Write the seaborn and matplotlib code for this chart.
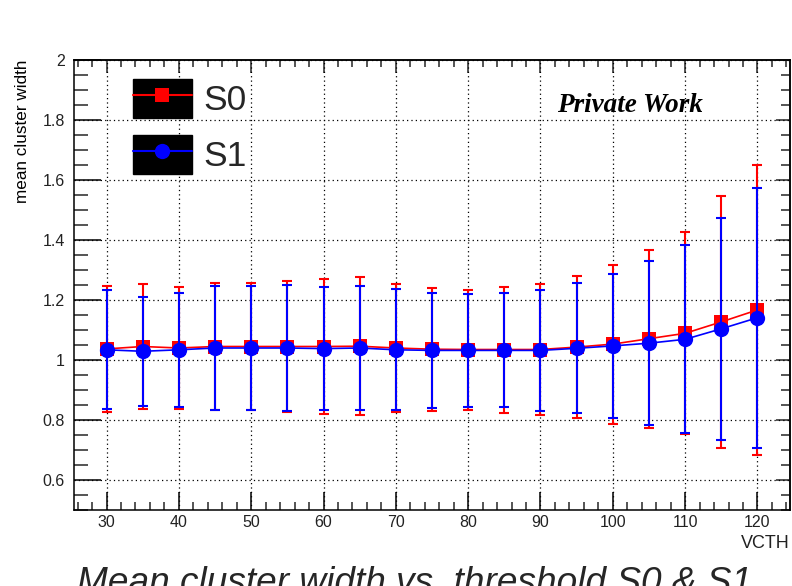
import numpy as np
import pandas as pd
import matplotlib
matplotlib.use("Agg")
import matplotlib.pyplot as plt
import seaborn as sns
from matplotlib.ticker import MultipleLocator, FuncFormatter
from matplotlib.lines import Line2D
from matplotlib.patches import Rectangle
from matplotlib.legend_handler import HandlerTuple

# ---- data ----
vcth = [30, 35, 40, 45, 50, 55, 60, 65, 70, 75, 80, 85, 90, 95, 100, 105, 110, 115, 120]
s0_mean = [1.037, 1.045, 1.040, 1.045, 1.045, 1.045, 1.045, 1.046, 1.040, 1.036,
           1.035, 1.035, 1.035, 1.043, 1.053, 1.071, 1.089, 1.127, 1.167]
s0_err = [0.210, 0.209, 0.202, 0.211, 0.212, 0.218, 0.225, 0.229, 0.214, 0.205,
          0.200, 0.210, 0.218, 0.237, 0.265, 0.297, 0.337, 0.421, 0.482]
s1_mean = [1.034, 1.029, 1.034, 1.040, 1.040, 1.040, 1.038, 1.040, 1.034, 1.032,
           1.032, 1.032, 1.032, 1.039, 1.047, 1.056, 1.069, 1.104, 1.141]
s1_err = [0.198, 0.182, 0.190, 0.205, 0.205, 0.210, 0.205, 0.207, 0.201, 0.193,
          0.189, 0.190, 0.201, 0.217, 0.241, 0.274, 0.313, 0.370, 0.434]
series_names = ["S0", "S1"]
y_ticks = [0.6, 0.8, 1.0, 1.2, 1.4, 1.6, 1.8, 2.0]
x_ticks = [30, 40, 50, 60, 70, 80, 90, 100, 110, 120]

df = pd.DataFrame({"VCTH": vcth, "S0": s0_mean, "S0err": s0_err,
                   "S1": s1_mean, "S1err": s1_err})

sns.set_theme(style="white")
plt.rcParams["font.family"] = ["Liberation Sans", "DejaVu Sans"]

W, H = 792, 586
fig = plt.figure(figsize=(W / 100, H / 100), dpi=100, facecolor="white")
ax = fig.add_axes([74 / W, 1 - 510 / H, (790 - 74) / W, 450 / H])
ax.set_facecolor("white")

# S0 (red squares)
ax.errorbar(df["VCTH"], df["S0"], yerr=df["S0err"], fmt="none", ecolor="#ff0000",
            elinewidth=1.5, capsize=3.5, capthick=1.5, zorder=3)
sns.lineplot(data=df, x="VCTH", y="S0", ax=ax, color="#ff0000", marker="s",
             markersize=9.5, markeredgewidth=0, linewidth=1.2, zorder=4)
# S1 (blue circles)
ax.errorbar(df["VCTH"], df["S1"], yerr=df["S1err"], fmt="none", ecolor="#0000ff",
            elinewidth=1.5, capsize=3.5, capthick=1.5, zorder=5)
sns.lineplot(data=df, x="VCTH", y="S1", ax=ax, color="#0000ff", marker="o",
             markersize=11, markeredgewidth=0, linewidth=1.2, zorder=6)

ax.set_xlim(25.5, 124.5)
ax.set_ylim(0.5, 2.0)
ax.set_xticks(x_ticks)
ax.set_yticks(y_ticks)
ax.xaxis.set_minor_locator(MultipleLocator(2))
ax.yaxis.set_minor_locator(MultipleLocator(0.05))
ax.yaxis.set_major_formatter(FuncFormatter(lambda v, p: "%g" % round(v, 3)))
ax.xaxis.set_major_formatter(FuncFormatter(lambda v, p: "%g" % v))
ax.set_xlabel("")
ax.set_ylabel("")

ax.grid(True, which="major", color="black", linestyle=(0, (1, 2.5)), linewidth=0.9)
ax.set_axisbelow(True)
for s in ax.spines.values():
    s.set_color("black")
    s.set_linewidth(1.1)

ax.tick_params(axis="y", which="major", direction="in", length=19.4, width=1.1,
               labelsize=11.5, pad=6.5, colors="black", left=True)
ax.tick_params(axis="y", which="minor", direction="in", length=10, width=1.1, left=True)
ax.tick_params(axis="x", which="major", direction="in", length=12.7, width=1.1,
               labelsize=11.5, pad=3.5, colors="black", bottom=True)
ax.tick_params(axis="x", which="minor", direction="in", length=5.5, width=1.1, bottom=True)
for lab in ax.get_xticklabels() + ax.get_yticklabels():
    lab.set_color("#222222")

secx = ax.secondary_xaxis("top")
secx.set_xticks(x_ticks)
secx.xaxis.set_minor_locator(MultipleLocator(2))
secx.tick_params(axis="x", which="major", direction="in", length=9.4, width=1.1, labeltop=False)
secx.tick_params(axis="x", which="minor", direction="in", length=5, width=1.1)
secy = ax.secondary_yaxis("right")
secy.set_yticks(y_ticks)
secy.yaxis.set_minor_locator(MultipleLocator(0.05))
secy.tick_params(axis="y", which="major", direction="in", length=10, width=1.1, labelright=False)
secy.tick_params(axis="y", which="minor", direction="in", length=6.5, width=1.1)

# axis titles
fig.text(23 / W, 1 - 60 / H, "mean cluster width", rotation=90, ha="center", va="top",
         fontsize=12.3, color="black")
fig.text(790 / W, 1 - 548 / H, "VCTH", ha="right", va="baseline", fontsize=13, color="#222222")

# legend with black boxes
box = Rectangle((0, 0), 1, 1, facecolor="black", edgecolor="black")
h0 = Line2D([], [], color="#ff0000", marker="s", markersize=9.5, markeredgewidth=0, linewidth=1.5)
h1 = Line2D([], [], color="#0000ff", marker="o", markersize=11, markeredgewidth=0, linewidth=1.5)
leg = fig.legend([(box, h0), (box, h1)], series_names,
                 handler_map={tuple: HandlerTuple(ndivide=1, pad=0)},
                 loc="upper left", bbox_to_anchor=(132.5 / W, 1 - 79 / H),
                 bbox_transform=fig.transFigure, frameon=False, borderpad=0,
                 borderaxespad=0, fontsize=25.5, handlelength=1.68, handleheight=1.3,
                 labelspacing=0.5, handletextpad=0.33)

# Private Work
fig.text(557 / W, 1 - 111.5 / H, "Private Work", ha="left", va="baseline",
         fontsize=19.5, fontweight="bold", fontstyle="italic",
         family=["Liberation Serif", "DejaVu Serif"], color="black")

# bottom title, fitted to measured width (cut by the lower edge, as in the source)
title = "Mean cluster width vs. threshold S0 & S1"
fs = 26
t = fig.text(0, 0, title, fontsize=fs, fontstyle="italic", ha="left", va="baseline")
fig.canvas.draw()
bb = t.get_window_extent()
fs = fs * (751.7 - 76.7) / bb.width
t.set_fontsize(fs)
fpx = fs / 72 * 100
baseline = 566 + 0.729 * fpx
t.set_position((76.7 / W, 1 - baseline / H))

fig.savefig("out.png", dpi=100, facecolor="white")
